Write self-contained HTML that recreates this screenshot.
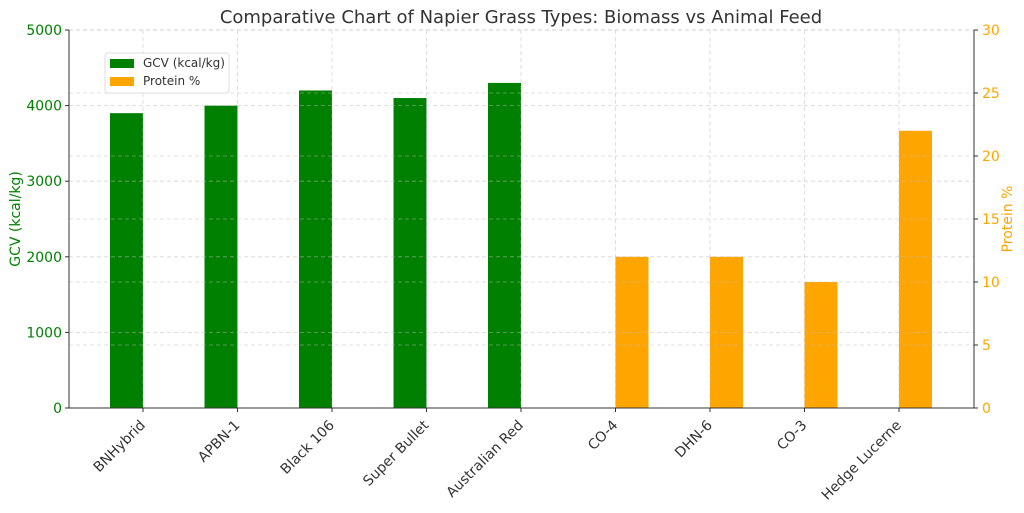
<!DOCTYPE html>
<html><head><meta charset="utf-8"><style>
body{margin:0;background:#fff;font-family:"Liberation Sans","DejaVu Sans",sans-serif}
</style></head><body>
<svg id="chart" width="1024" height="508" xmlns="http://www.w3.org/2000/svg" font-family="DejaVu Sans, Liberation Sans, sans-serif">
<text x="521" y="23" text-anchor="middle" font-size="18" fill="#333">Comparative Chart of Napier Grass Types: Biomass vs Animal Feed</text>
<g id="bars"></g><g id="grid"></g><g id="axes"></g>
<text transform="translate(20,219) rotate(-90)" text-anchor="middle" font-size="14" fill="green">GCV (kcal/kg)</text>
<text transform="translate(1012,219) rotate(-90)" text-anchor="middle" font-size="14" fill="orange">Protein %</text>
<g>
<rect x="105" y="53" width="124" height="40" fill="#fff" fill-opacity="0.9" stroke="#ddd" rx="3"/>
<rect x="110" y="59" width="24" height="9" fill="green"/>
<text x="143" y="67" font-size="12" fill="#333">GCV (kcal/kg)</text>
<rect x="110" y="77" width="24" height="9" fill="orange"/>
<text x="143" y="85" font-size="12" fill="#333">Protein %</text>
</g>
</svg>
<script>
const categories=["BNHybrid","APBN-1","Black 106","Super Bullet","Australian Red","CO-4","DHN-6","CO-3","Hedge Lucerne"];
const gcv=[3900,4000,4200,4100,4300,0,0,0,0];
const protein=[0,0,0,0,0,12,12,10,22];
const leftTicks=[0,1000,2000,3000,4000,5000];
const rightTicks=[0,5,10,15,20,25,30];
const NS="http://www.w3.org/2000/svg";
const L=69,R=974,T=30,B=408;
const x0=143,step=94.5,bw=33;
const xc=i=>x0+i*step;
const yl=v=>B-(v/5000)*(B-T);
const yr=v=>B-(v/30)*(B-T);
function mk(p,t,a){const e=document.createElementNS(NS,t);for(const k in a)e.setAttribute(k,a[k]);p.appendChild(e);return e;}
const g=document.getElementById('grid'),b=document.getElementById('bars'),ax=document.getElementById('axes');
const gs={stroke:'#bbb','stroke-dasharray':'4,3','stroke-width':0.8,'stroke-opacity':0.6};
leftTicks.forEach(v=>{const l=mk(g,'line',Object.assign({x1:L,x2:R,y1:yl(v),y2:yl(v)},gs));


const t=mk(ax,'text',{x:L-7,y:yl(v)+5,'text-anchor':'end','font-size':14,fill:'green'});t.textContent=v;


mk(ax,'line',{x1:L-4,x2:L,y1:yl(v),y2:yl(v),stroke:'#333'});});
rightTicks.forEach(v=>{const l=mk(g,'line',Object.assign({x1:L,x2:R,y1:yr(v),y2:yr(v)},gs));


const t=mk(ax,'text',{x:R+8,y:yr(v)+5,'font-size':14,fill:'orange'});t.textContent=v;


mk(ax,'line',{x1:R,x2:R+4,y1:yr(v),y2:yr(v),stroke:'#333'});});
categories.forEach((c,i)=>{const x=xc(i);
const l=mk(g,'line',Object.assign({x1:x,x2:x,y1:T,y2:B},gs));


const r1=mk(b,'rect',{x:x-bw,y:yl(gcv[i]),width:bw,height:B-yl(gcv[i]),fill:'green'});


const r2=mk(b,'rect',{x:x,y:yr(protein[i]),width:bw,height:B-yr(protein[i]),fill:'orange'});


mk(ax,'line',{x1:x,x2:x,y1:B,y2:B+4,stroke:'#333'});
const t=mk(ax,'text',{transform:`translate(${x+3},${B+18}) rotate(-45)`,'text-anchor':'end','font-size':14,fill:'#333'});t.textContent=c;

});
mk(ax,'path',{d:`M${L},${T}V${B}H${R}V${T}`,fill:'none',stroke:'#333','stroke-width':1});
</script>
</body></html>
